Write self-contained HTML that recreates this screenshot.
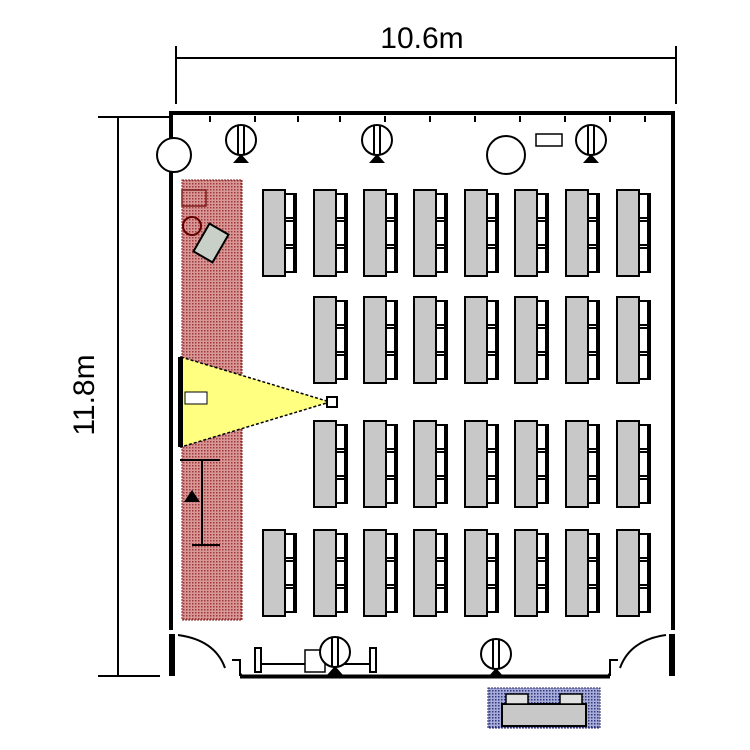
<!DOCTYPE html><html><head><style>body{margin:0;background:#fff}svg{display:block}</style></head><body>
<svg width="750" height="750" viewBox="0 0 750 750" xmlns="http://www.w3.org/2000/svg" font-family="Liberation Sans, sans-serif">
<defs>
<pattern id="red" width="3" height="3" patternUnits="userSpaceOnUse"><rect width="3" height="3" fill="#d89898"/><rect width="1.5" height="1.5" fill="#a03838"/></pattern>
<pattern id="blue" width="3" height="3" patternUnits="userSpaceOnUse"><rect width="3" height="3" fill="#a8acd8"/><rect width="1.5" height="1.5" fill="#303880"/></pattern>
<g id="desk"><rect x="0" y="0" width="22" height="86" fill="#c8c8c8" stroke="#000" stroke-width="2"/>
<rect x="22" y="4" width="11" height="24" fill="#fff" stroke="#000" stroke-width="2"/>
<rect x="22" y="31" width="11" height="24" fill="#fff" stroke="#000" stroke-width="2"/>
<rect x="22" y="58" width="11" height="24" fill="#fff" stroke="#000" stroke-width="2"/>
<rect x="30" y="4" width="4" height="78" fill="#000"/></g>
<g id="lamp"><circle cx="0" cy="0" r="15" fill="#fff" stroke="#000" stroke-width="2"/><line x1="-3" y1="-14" x2="-3" y2="14" stroke="#000" stroke-width="2"/><line x1="3" y1="-14" x2="3" y2="14" stroke="#000" stroke-width="2"/><polygon points="-8,23 8,23 0,14" fill="#000"/></g>
</defs>
<line x1="176" y1="58" x2="676" y2="58" stroke="#000" stroke-width="2"/>
<line x1="176" y1="46" x2="176" y2="104" stroke="#000" stroke-width="2"/>
<line x1="676" y1="46" x2="676" y2="104" stroke="#000" stroke-width="2"/>
<text x="422" y="48" font-size="30" text-anchor="middle">10.6m</text>
<line x1="118" y1="117" x2="118" y2="676" stroke="#000" stroke-width="2"/>
<line x1="98" y1="117" x2="170" y2="117" stroke="#000" stroke-width="2"/>
<line x1="98" y1="676" x2="170" y2="676" stroke="#000" stroke-width="2"/>
<text transform="translate(94,395) rotate(-90)" font-size="30" text-anchor="middle">11.8m</text>
<path d="M172 676 V114 H672 V676" fill="none" stroke="#000" stroke-width="6"/>
<path d="M174 676 V116 H670 V676" fill="none" stroke="#fff" stroke-width="2"/>
<g stroke="#000" stroke-width="2"><line x1="210" y1="116" x2="210" y2="122"/><line x1="255" y1="116" x2="255" y2="122"/><line x1="298" y1="116" x2="298" y2="122"/><line x1="340" y1="116" x2="340" y2="122"/><line x1="385" y1="116" x2="385" y2="122"/><line x1="430" y1="116" x2="430" y2="122"/><line x1="475" y1="116" x2="475" y2="122"/><line x1="520" y1="116" x2="520" y2="122"/><line x1="565" y1="116" x2="565" y2="122"/><line x1="610" y1="116" x2="610" y2="122"/><line x1="645" y1="116" x2="645" y2="122"/></g>
<circle cx="174" cy="155" r="17" fill="#fff" stroke="#000" stroke-width="2"/>
<circle cx="506" cy="155" r="19" fill="#fff" stroke="#000" stroke-width="2"/>
<rect x="536" y="134" width="26" height="12" fill="#fff" stroke="#000" stroke-width="1.5"/>
<use href="#lamp" x="241" y="140"/><use href="#lamp" x="377" y="140"/><use href="#lamp" x="591" y="140"/>
<rect x="182" y="180" width="60" height="440" fill="url(#red)" stroke="#802020" stroke-width="1" stroke-dasharray="2 1"/>
<rect x="182" y="190" width="24" height="16" fill="none" stroke="#802020" stroke-width="1.5"/>
<rect x="200" y="227" width="22" height="32" transform="rotate(30 211 243)" fill="#c8d0c8" stroke="#000" stroke-width="2"/>
<circle cx="192" cy="226" r="9" fill="none" stroke="#600" stroke-width="2"/>
<polygon points="181,357 330,402 181,447" fill="#ffff80" stroke="#000" stroke-width="1.5" stroke-dasharray="3 2"/>
<rect x="178" y="357" width="5" height="90" fill="#000"/>
<rect x="327" y="397" width="10" height="10" fill="#fff" stroke="#000" stroke-width="2"/>
<rect x="185" y="392" width="22" height="12" fill="#fff" stroke="#000" stroke-width="1"/>
<g stroke="#000" stroke-width="2" fill="none"><line x1="202" y1="460" x2="202" y2="545"/><line x1="192" y1="545" x2="220" y2="545"/><line x1="180" y1="460" x2="220" y2="460"/></g>
<polygon points="184,502 200,502 192,490" fill="#000"/>
<g>
<use href="#desk" x="263" y="190"/><use href="#desk" x="314" y="190"/><use href="#desk" x="364" y="190"/><use href="#desk" x="414" y="190"/><use href="#desk" x="465" y="190"/><use href="#desk" x="515" y="190"/><use href="#desk" x="566" y="190"/><use href="#desk" x="617" y="190"/>
<use href="#desk" x="314" y="297"/><use href="#desk" x="364" y="297"/><use href="#desk" x="414" y="297"/><use href="#desk" x="465" y="297"/><use href="#desk" x="515" y="297"/><use href="#desk" x="566" y="297"/><use href="#desk" x="617" y="297"/>
<use href="#desk" x="314" y="421"/><use href="#desk" x="364" y="421"/><use href="#desk" x="414" y="421"/><use href="#desk" x="465" y="421"/><use href="#desk" x="515" y="421"/><use href="#desk" x="566" y="421"/><use href="#desk" x="617" y="421"/>
<use href="#desk" x="263" y="530"/><use href="#desk" x="314" y="530"/><use href="#desk" x="364" y="530"/><use href="#desk" x="414" y="530"/><use href="#desk" x="465" y="530"/><use href="#desk" x="515" y="530"/><use href="#desk" x="566" y="530"/><use href="#desk" x="617" y="530"/>
</g>
<rect x="160" y="630" width="30" height="50" fill="#fff"/>
<rect x="655" y="630" width="30" height="50" fill="#fff"/>
<path d="M172 676 V634 M672 676 V634" stroke="#000" stroke-width="6"/>
<path d="M240 676 H610" stroke="#000" stroke-width="5"/>
<path d="M242 674 H608" stroke="#fff" stroke-width="1"/>
<path d="M240 676 V660 H232 M610 676 V660 H618" fill="none" stroke="#000" stroke-width="2"/>
<path d="M178 635 Q215 640 225 668" fill="none" stroke="#000" stroke-width="2"/>
<path d="M666 635 Q630 640 620 668" fill="none" stroke="#000" stroke-width="2"/>
<rect x="255" y="648" width="6" height="24" fill="#fff" stroke="#000" stroke-width="2"/>
<rect x="370" y="648" width="6" height="24" fill="#fff" stroke="#000" stroke-width="2"/>
<line x1="261" y1="664" x2="370" y2="664" stroke="#000" stroke-width="2"/>
<rect x="305" y="650" width="20" height="22" fill="#fff" stroke="#000" stroke-width="1.5"/>
<use href="#lamp" x="335" y="652"/><use href="#lamp" x="496" y="654"/>
<rect x="488" y="688" width="112" height="40" fill="url(#blue)" stroke="#202060" stroke-width="1" stroke-dasharray="2 1"/>
<rect x="502" y="704" width="84" height="22" fill="#c8c8c8" stroke="#000" stroke-width="2"/>
<rect x="506" y="694" width="22" height="10" fill="#e0e0e0" stroke="#000" stroke-width="1.5"/>
<rect x="560" y="694" width="22" height="10" fill="#e0e0e0" stroke="#000" stroke-width="1.5"/>
</svg>
</body></html>
